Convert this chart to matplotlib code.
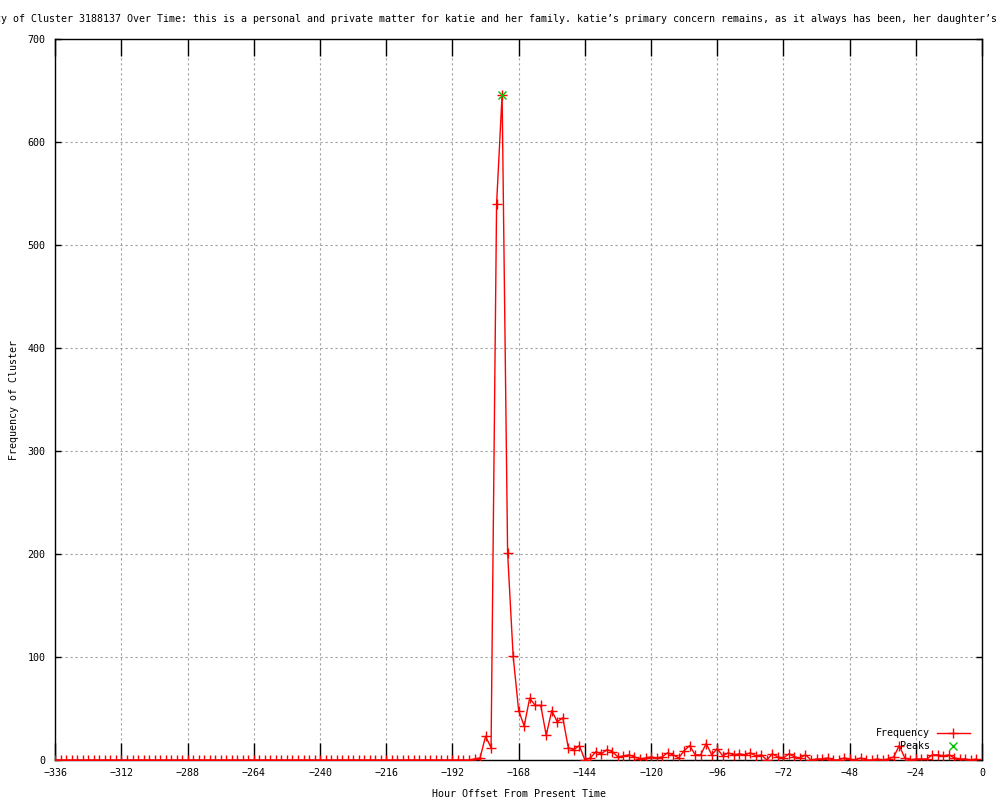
import numpy as np
import matplotlib
matplotlib.use("Agg")
import matplotlib.pyplot as plt

plt.rcParams['font.family'] = ['DejaVu Sans Mono', 'DejaVu Sans']
plt.rcParams['font.size'] = 7.2

# Data: frequency every 2 hours, from -336 h up to -2 h
hours = np.arange(-336, 0, 2)
freq_quiet = [0] * 76  # -336 .. -186, flat at zero
freq_active = [
    1, 2, 23, 12, 540, 646, 201, 101, 48, 33,       # -184 .. -166
    60, 53, 53, 24, 48, 37, 41, 12, 10, 14,         # -164 .. -146
    0, 2, 8, 6, 10, 8, 3, 4, 5, 3,                  # -144 .. -126
    1, 2, 3, 2, 3, 7, 5, 2, 9, 14,                  # -124 .. -106
    5, 5, 16, 5, 11, 4, 7, 5, 6, 5,                 # -104 .. -86
    7, 4, 5, 0, 6, 3, 2, 6, 3, 2,                   # -84 .. -66
    5, 0, 1, 1, 2, 0, 0, 2, 1, 0,                   # -64 .. -46
    2, 0, 0, 1, 0, 1, 3, 14, 2, 0,                  # -44 .. -26
    1, 1, 1, 5, 5, 4, 5, 2, 1, 1,                   # -24 .. -6
    0, 1,                                           # -4 .. -2
]
freq = freq_quiet + freq_active
peak_hours = [-174]
peak_freq = [646]

title = ("Frequency of Cluster 3188137 Over Time: this is a personal and private "
         "matter for katie and her family. katie\u2019s primary concern remains, "
         "as it always has been, her daughter\u2019s")

fig = plt.figure(figsize=(10, 8), dpi=100)
ax = fig.add_axes([0.0553, 0.05, 0.9267, 0.90125])

ax.plot(hours, freq, color='red', lw=1, marker='+', ms=6.5, mew=1, zorder=3)
ax.plot(peak_hours, peak_freq, ls='none', marker='x', color='#00c000',
        ms=6, mew=1, zorder=4)

ax.set_xlim(-336, 0)
ax.set_ylim(0, 700)
ax.set_xticks(np.arange(-336, 1, 24))
ax.set_yticks(np.arange(0, 701, 100))
ax.grid(True, color='#a0a0a0', ls=(0, (2, 2.5)), lw=0.8)
ax.set_axisbelow(True)
for s in ax.spines.values():
    s.set_linewidth(1)
    s.set_color('black')
ax.tick_params(axis='x', direction='in', length=12, width=1, top=True, pad=6)
ax.tick_params(axis='y', direction='in', length=4, width=1, right=True, pad=7)

ax.set_xlabel('Hour Offset From Present Time', labelpad=8)
ax.set_ylabel('Frequency of Cluster', labelpad=6)

# legend, gnuplot style: right-aligned text then sample
tx = 0.944
ax.text(tx, 0.037, 'Frequency', ha='right', va='center', transform=ax.transAxes)
ax.plot([0.951, 0.969, 0.987], [0.037] * 3, color='red', lw=1, marker='+', ms=6.5,
        mew=1, markevery=[1], transform=ax.transAxes, clip_on=False)
ax.text(tx, 0.0194, 'Peaks', ha='right', va='center', transform=ax.transAxes)
ax.plot([0.969], [0.0194], ls='none', marker='x', color='#00c000', ms=6, mew=1,
        transform=ax.transAxes, clip_on=False)

# title is wider than the image, so it gets cut on both sides
fig.text(-0.047, 0.976, title, ha='left', va='center')

fig.savefig('out.png', dpi=100)
